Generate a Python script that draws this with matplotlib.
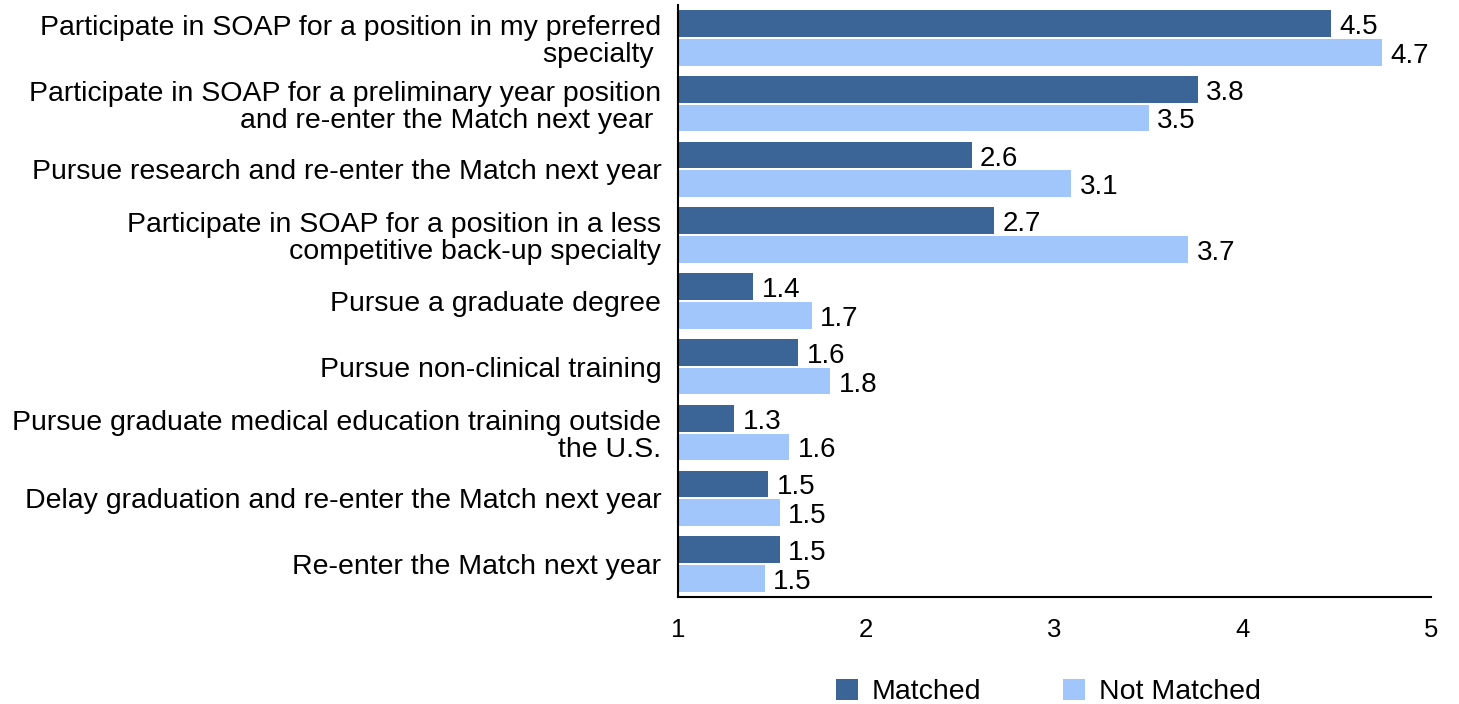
import numpy as np
import matplotlib
matplotlib.use("Agg")
import matplotlib.pyplot as plt

plt.rcParams['font.family'] = ['Liberation Sans', 'DejaVu Sans']

# categories top to bottom
categories = [
    "Participate in SOAP for a position in my preferred\nspecialty ",
    "Participate in SOAP for a preliminary year position\nand re-enter the Match next year ",
    "Pursue research and re-enter the Match next year",
    "Participate in SOAP for a position in a less\ncompetitive back-up specialty",
    "Pursue a graduate degree",
    "Pursue non-clinical training",
    "Pursue graduate medical education training outside\nthe U.S.",
    "Delay graduation and re-enter the Match next year",
    "Re-enter the Match next year",
]
matched = [4.47, 3.76, 2.56, 2.68, 1.40, 1.64, 1.30, 1.48, 1.54]
not_matched = [4.74, 3.50, 3.09, 3.71, 1.71, 1.81, 1.59, 1.54, 1.46]
series_names = ["Matched", "Not Matched"]
colors = ["#3B6596", "#A1C6FB"]

fig = plt.figure(figsize=(14.59, 7.04), dpi=100)
ax = fig.add_axes([0.4647, 0.152, 0.5161, 0.841])

y = np.arange(len(categories))
h = 0.406
off = 0.218
base = 1

b1 = ax.barh(y - off, np.array(matched) - base, left=base, height=h,
             color=colors[0], label=series_names[0])
b2 = ax.barh(y + off, np.array(not_matched) - base, left=base, height=h,
             color=colors[1], label=series_names[1])

# value labels just right of each bar
for yy, v in zip(y - off, matched):
    ax.annotate(f"{v:.1f}", (v, yy), xytext=(6, -2.5), textcoords="offset points",
                va="center", ha="left", fontsize=20)
for yy, v in zip(y + off, not_matched):
    ax.annotate(f"{v:.1f}", (v, yy), xytext=(6, -2.5), textcoords="offset points",
                va="center", ha="left", fontsize=20)

ax.set_xlim(1, 5)
ax.set_ylim(len(categories) - 0.5, -0.5)
ax.set_xticks([1, 2, 3, 4, 5])
ax.set_yticks(y)
ax.set_yticklabels(categories, fontsize=20.5)
for t in ax.get_yticklabels():
    t.set_linespacing(1.05)
ax.tick_params(axis='x', length=0, pad=15, labelsize=18.5)
ax.tick_params(axis='y', length=0, pad=12)

for s in ['top', 'right']:
    ax.spines[s].set_visible(False)
ax.spines['left'].set_linewidth(1.5)
ax.spines['bottom'].set_linewidth(1.5)

fig.legend(handles=[b1, b2], loc='center', bbox_to_anchor=(0.7185, 0.017),
           ncol=2, frameon=False, fontsize=20.5, handlelength=0.77,
           handleheight=0.77, columnspacing=2.85, handletextpad=0.5)

fig.savefig("out.png", dpi=100)
